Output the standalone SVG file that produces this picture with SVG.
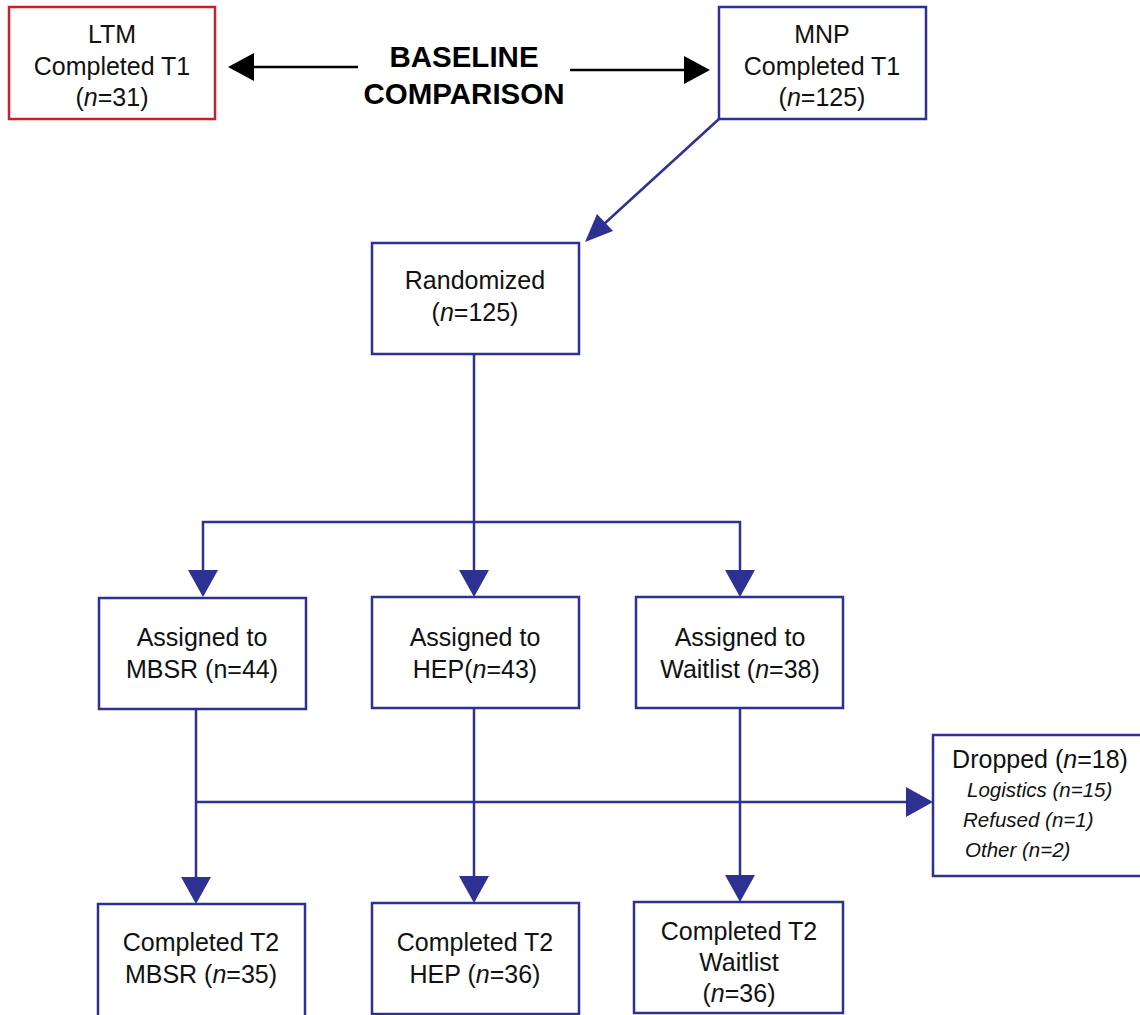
<svg xmlns="http://www.w3.org/2000/svg" width="1140" height="1015" viewBox="0 0 1140 1015">
<style>
.box{fill:#fff;stroke:#2e3192;stroke-width:2.5}
.red{fill:#fff;stroke:#c8202f;stroke-width:2.5}
.t{font-family:"Liberation Sans",Arial,sans-serif;font-size:25px;fill:#111;text-anchor:middle}
.s{font-family:"Liberation Sans",Arial,sans-serif;font-size:20.5px;fill:#111;font-style:italic}
.b{font-family:"Liberation Sans",Arial,sans-serif;font-size:29.5px;font-weight:bold;fill:#000;text-anchor:middle}
.ln{stroke:#2e3192;stroke-width:2.5;fill:none}
.bk{stroke:#000;stroke-width:2.5;fill:none}
</style>
<g id="connectors">
<path d="M358,67 H250" class="bk"/>
<polygon points="228,67 254,53 254,81" fill="#000"/>
<path d="M570,70 H686" class="bk"/>
<polygon points="710,70 684,56 684,84" fill="#000"/>
<path d="M719,119 L604,224" class="ln"/>
<polygon points="585,242 597,214 613,231" fill="#2e3192"/>
<path d="M474,354 V572 M203,572 V522 H740 V572" class="ln"/>
<polygon points="203,597 188,570 218,570" fill="#2e3192"/>
<polygon points="474,597 459,570 489,570" fill="#2e3192"/>
<polygon points="740,597 725,570 755,570" fill="#2e3192"/>
<path d="M196,709 V878 M474,708 V878 M740,708 V878 M196,802 H908" class="ln"/>
<polygon points="196,904 181,877 211,877" fill="#2e3192"/>
<polygon points="474,903 459,876 489,876" fill="#2e3192"/>
<polygon points="740,902 725,875 755,875" fill="#2e3192"/>
<polygon points="933,802 906,787 906,817" fill="#2e3192"/>
</g>
<g id="baseline">
<text class="b" x="464" y="67">BASELINE</text>
<text class="b" x="464" y="104">COMPARISON</text>
</g>
<g id="ltm">
<rect class="red" x="9" y="7" width="206" height="112"/>
<text class="t" x="112" y="43">LTM</text>
<text class="t" x="112" y="75">Completed T1</text>
<text class="t" x="112" y="106">(<tspan font-style="italic">n</tspan>=31)</text>
</g>
<g id="mnp">
<rect class="box" x="719" y="7" width="207" height="112"/>
<text class="t" x="822" y="43">MNP</text>
<text class="t" x="822" y="75">Completed T1</text>
<text class="t" x="822" y="106">(<tspan font-style="italic">n</tspan>=125)</text>
</g>
<g id="randomized">
<rect class="box" x="372" y="243" width="207" height="111"/>
<text class="t" x="475" y="289">Randomized</text>
<text class="t" x="475" y="321">(<tspan font-style="italic">n</tspan>=125)</text>
</g>
<g id="mbsr">
<rect class="box" x="99" y="598" width="207" height="111"/>
<text class="t" x="202" y="646">Assigned to</text>
<text class="t" x="202" y="678">MBSR (n=44)</text>
</g>
<g id="hep">
<rect class="box" x="372" y="597" width="207" height="111"/>
<text class="t" x="475" y="646">Assigned to</text>
<text class="t" x="475" y="678">HEP(<tspan font-style="italic">n</tspan>=43)</text>
</g>
<g id="waitlist">
<rect class="box" x="636" y="597" width="207" height="111"/>
<text class="t" x="740" y="646">Assigned to</text>
<text class="t" x="740" y="678">Waitlist (<tspan font-style="italic">n</tspan>=38)</text>
</g>
<g id="dropped">
<rect class="box" x="933" y="735" width="210" height="141"/>
<text class="t" x="1040" y="768">Dropped (<tspan font-style="italic">n</tspan>=18)</text>
<text class="s" x="967" y="797">Logistics (n=15)</text>
<text class="s" x="963" y="827">Refused (n=1)</text>
<text class="s" x="965" y="857">Other (n=2)</text>
</g>
<g id="t2mbsr">
<rect class="box" x="98" y="904" width="207" height="113"/>
<text class="t" x="201" y="951">Completed T2</text>
<text class="t" x="201" y="983">MBSR (<tspan font-style="italic">n</tspan>=35)</text>
</g>
<g id="t2hep">
<rect class="box" x="372" y="903" width="207" height="111"/>
<text class="t" x="475" y="951">Completed T2</text>
<text class="t" x="475" y="983">HEP (<tspan font-style="italic">n</tspan>=36)</text>
</g>
<g id="t2waitlist">
<rect class="box" x="634" y="902" width="209" height="111"/>
<text class="t" x="739" y="940">Completed T2</text>
<text class="t" x="739" y="971">Waitlist</text>
<text class="t" x="739" y="1002">(<tspan font-style="italic">n</tspan>=36)</text>
</g>
</svg>
